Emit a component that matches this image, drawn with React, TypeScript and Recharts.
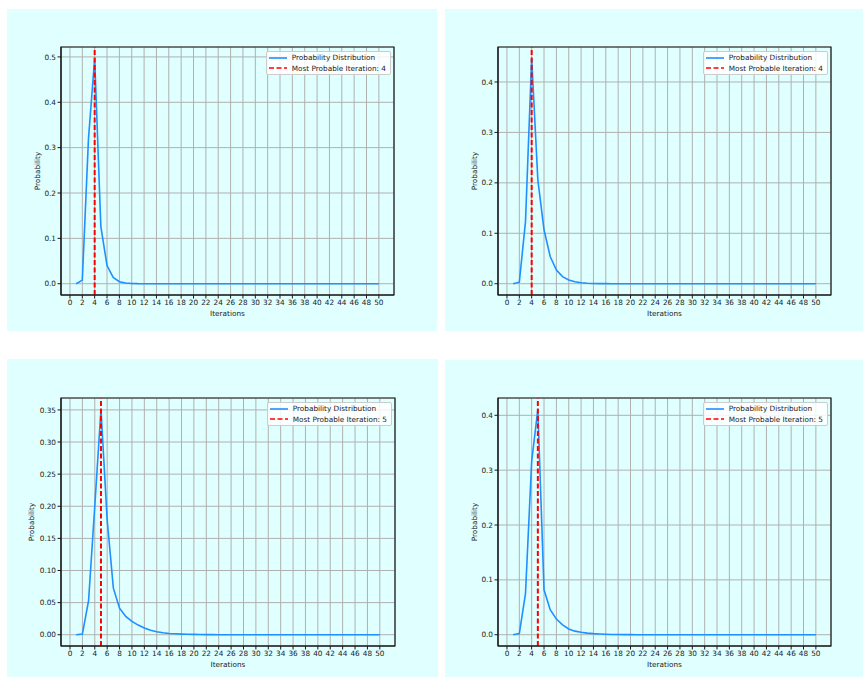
import React from "react";
import { LineChart, Line, XAxis, YAxis, CartesianGrid, ReferenceLine, ReferenceArea, Legend } from "recharts";

const FONT = '"DejaVu Sans", sans-serif';
const INK = "#1a1a1a";
const BLUE = "#1e90ff";
const PANEL_BG = "#e0ffff";
const FS = 7.3;

// iteration numbers on the x axis
const ITERATIONS = [
  1, 2, 3, 4, 5, 6, 7, 8, 9, 10, 11, 12, 13, 14, 15, 16, 17, 18, 19, 20, 21, 22, 23, 24, 25,
  26, 27, 28, 29, 30, 31, 32, 33, 34, 35, 36, 37, 38, 39, 40, 41, 42, 43, 44, 45, 46, 47, 48, 49, 50,
];
const X_TICKS = [0, 2, 4, 6, 8, 10, 12, 14, 16, 18, 20, 22, 24, 26, 28, 30, 32, 34, 36, 38, 40, 42, 44, 46, 48, 50];

// probability per iteration
const PROB_A = [
  0.0, 0.008, 0.32, 0.497, 0.126, 0.04, 0.014, 0.0045, 0.0015, 0.0006, 0.0002, 0.0001, 0, 0, 0, 0, 0, 0, 0, 0, 0, 0, 0, 0, 0,
  0, 0, 0, 0, 0, 0, 0, 0, 0, 0, 0, 0, 0, 0, 0, 0, 0, 0, 0, 0, 0, 0, 0, 0, 0,
];
const PROB_B = [
  0.0, 0.003, 0.123, 0.447, 0.206, 0.107, 0.054, 0.027, 0.014, 0.0073, 0.004, 0.002, 0.001, 0.0006, 0.0003, 0.0002, 0.0001, 0, 0, 0, 0, 0, 0, 0, 0,
  0, 0, 0, 0, 0, 0, 0, 0, 0, 0, 0, 0, 0, 0, 0, 0, 0, 0, 0, 0, 0, 0, 0, 0, 0,
];
const PROB_C = [
  0.0, 0.001, 0.053, 0.2, 0.351, 0.179, 0.0725, 0.0414, 0.0285, 0.0207, 0.015, 0.0104, 0.007, 0.0047, 0.003, 0.002, 0.0015, 0.001, 0.0007, 0.0005, 0.0003, 0.0002, 0.0001, 0, 0,
  0, 0, 0, 0, 0, 0, 0, 0, 0, 0, 0, 0, 0, 0, 0, 0, 0, 0, 0, 0, 0, 0, 0, 0, 0,
];
const PROB_D = [
  0.0, 0.002, 0.075, 0.316, 0.411, 0.082, 0.0455, 0.0285, 0.018, 0.0104, 0.0065, 0.0045, 0.003, 0.002, 0.0013, 0.0008, 0.0005, 0.0003, 0.0002, 0.0001, 0, 0, 0, 0, 0,
  0, 0, 0, 0, 0, 0, 0, 0, 0, 0, 0, 0, 0, 0, 0, 0, 0, 0, 0, 0, 0, 0, 0, 0, 0,
];

const Y_TICKS_A = [0, 0.1, 0.2, 0.3, 0.4, 0.5];
const Y_TICKS_B = [0, 0.1, 0.2, 0.3, 0.4];
const Y_TICKS_C = [0, 0.05, 0.1, 0.15, 0.2, 0.25, 0.3, 0.35];
const Y_TICKS_D = [0, 0.1, 0.2, 0.3, 0.4];

const PEAKS = [4, 4, 5, 5];

const Y_W = 40;
const X_H = 30;

function LegendBox({ peak }: { peak: number }) {
  const row = { display: "flex", alignItems: "center", height: 10.8, whiteSpace: "nowrap" as const };
  return (
    <div
      style={{
        background: "rgba(255,255,255,0.85)",
        border: "1px solid #cccccc",
        borderRadius: 2,
        padding: "0.5px 3.5px 0.5px 2px",
        fontFamily: FONT,
        fontSize: FS,
        color: INK,
      }}
    >
      <div style={row}>
        <svg width={18} height={6}>
          <line x1={0} y1={3} x2={18} y2={3} stroke={BLUE} strokeWidth={1.6} />
        </svg>
        <span style={{ marginLeft: 5 }}>Probability Distribution</span>
      </div>
      <div style={row}>
        <svg width={18} height={6}>
          <line x1={0} y1={3} x2={18} y2={3} stroke="red" strokeWidth={1.6} strokeDasharray="5 2.5" />
        </svg>
        <span style={{ marginLeft: 5 }}>Most Probable Iteration: {peak}</span>
      </div>
    </div>
  );
}

interface PanelProps {
  values: number[];
  peak: number;
  yTicks: number[];
  decimals: number;
  yLabelGap: number;
  box: { left: number; top: number; width: number; height: number };
  margin: { top: number; right: number; bottom: number; left: number };
}

function Panel({ values, peak, yTicks, decimals, yLabelGap, box, margin }: PanelProps) {
  const data = ITERATIONS.map((it, i) => ({ iteration: it, p: values[i] }));
  const xMin = ITERATIONS[0];
  const xMax = ITERATIONS[ITERATIONS.length - 1];
  const xPad = (xMax - xMin) * 0.05;
  const xDomain: [number, number] = [xMin - xPad, xMax + xPad];
  const yMax = Math.max(...values);
  const yDomain: [number, number] = [-yMax * 0.05, yMax * 1.05];

  return (
    <div style={{ position: "absolute", left: box.left, top: box.top, width: box.width, height: box.height, background: PANEL_BG }}>
      <LineChart width={box.width} height={box.height} data={data} margin={margin}>
        <CartesianGrid stroke="#b0b0b0" strokeWidth={1} />
        <XAxis
          dataKey="iteration"
          type="number"
          domain={xDomain}
          ticks={X_TICKS}
          allowDataOverflow
          height={X_H}
          tickSize={3.5}
          tickMargin={1.5}
          interval={0}
          stroke={INK}
          tick={{ fontSize: FS, fill: INK, fontFamily: FONT }}
          label={(props: any) => {
            const vb = props.viewBox;
            return (
              <text x={vb.x + vb.width / 2} y={vb.y + 18.3} textAnchor="middle" dominantBaseline="central" fontSize={FS} fill={INK} fontFamily={FONT}>
                Iterations
              </text>
            );
          }}
        />
        <YAxis
          type="number"
          domain={yDomain}
          ticks={yTicks}
          allowDataOverflow
          width={Y_W}
          tickSize={3.5}
          tickMargin={1.5}
          interval={0}
          stroke={INK}
          tickFormatter={(v: number) => v.toFixed(decimals)}
          tick={{ fontSize: FS, fill: INK, fontFamily: FONT }}
          label={(props: any) => {
            const vb = props.viewBox;
            const cx = vb.x + vb.width - yLabelGap;
            const cy = vb.y + vb.height / 2;
            return (
              <text x={cx} y={cy} transform={`rotate(-90 ${cx} ${cy})`} textAnchor="middle" dominantBaseline="central" fontSize={FS} fill={INK} fontFamily={FONT}>
                Probability
              </text>
            );
          }}
        />
        <Line type="linear" dataKey="p" stroke={BLUE} strokeWidth={1.6} dot={false} isAnimationActive={false} />
        <ReferenceLine x={peak} stroke="red" strokeWidth={2} strokeDasharray="5 2.5" />
        <ReferenceArea x1={xDomain[0]} x2={xDomain[1]} y1={yDomain[0]} y2={yDomain[1]} fill="none" stroke={INK} strokeWidth={1.2} ifOverflow="visible" />
        <Legend
          layout="horizontal"
          verticalAlign="middle"
          align="center"
          wrapperStyle={{ left: "auto", right: margin.right + 3.5, top: margin.top + 3.7, width: "auto", height: "auto" }}
          content={() => <LegendBox peak={peak} />}
        />
      </LineChart>
    </div>
  );
}

export default function App() {
  return (
    <div style={{ position: "fixed", left: 0, top: 0, width: 863, height: 677, background: "#ffffff" }}>
      <Panel
        values={PROB_A}
        peak={PEAKS[0]}
        yTicks={Y_TICKS_A}
        decimals={1}
        yLabelGap={23.7}
        box={{ left: 7, top: 9, width: 430, height: 322 }}
        margin={{ top: 38, right: 43, bottom: 36 - X_H, left: 54 - Y_W }}
      />
      <Panel
        values={PROB_B}
        peak={PEAKS[1]}
        yTicks={Y_TICKS_B}
        decimals={1}
        yLabelGap={23.7}
        box={{ left: 445, top: 9, width: 418, height: 322 }}
        margin={{ top: 38, right: 32, bottom: 36 - X_H, left: 53 - Y_W }}
      />
      <Panel
        values={PROB_C}
        peak={PEAKS[2]}
        yTicks={Y_TICKS_C}
        decimals={2}
        yLabelGap={29.5}
        box={{ left: 7, top: 359, width: 431, height: 318 }}
        margin={{ top: 39, right: 43, bottom: 31 - X_H, left: 54 - Y_W }}
      />
      <Panel
        values={PROB_D}
        peak={PEAKS[3]}
        yTicks={Y_TICKS_D}
        decimals={1}
        yLabelGap={23.7}
        box={{ left: 445, top: 360, width: 418, height: 317 }}
        margin={{ top: 38, right: 32, bottom: 31 - X_H, left: 53 - Y_W }}
      />
    </div>
  );
}
